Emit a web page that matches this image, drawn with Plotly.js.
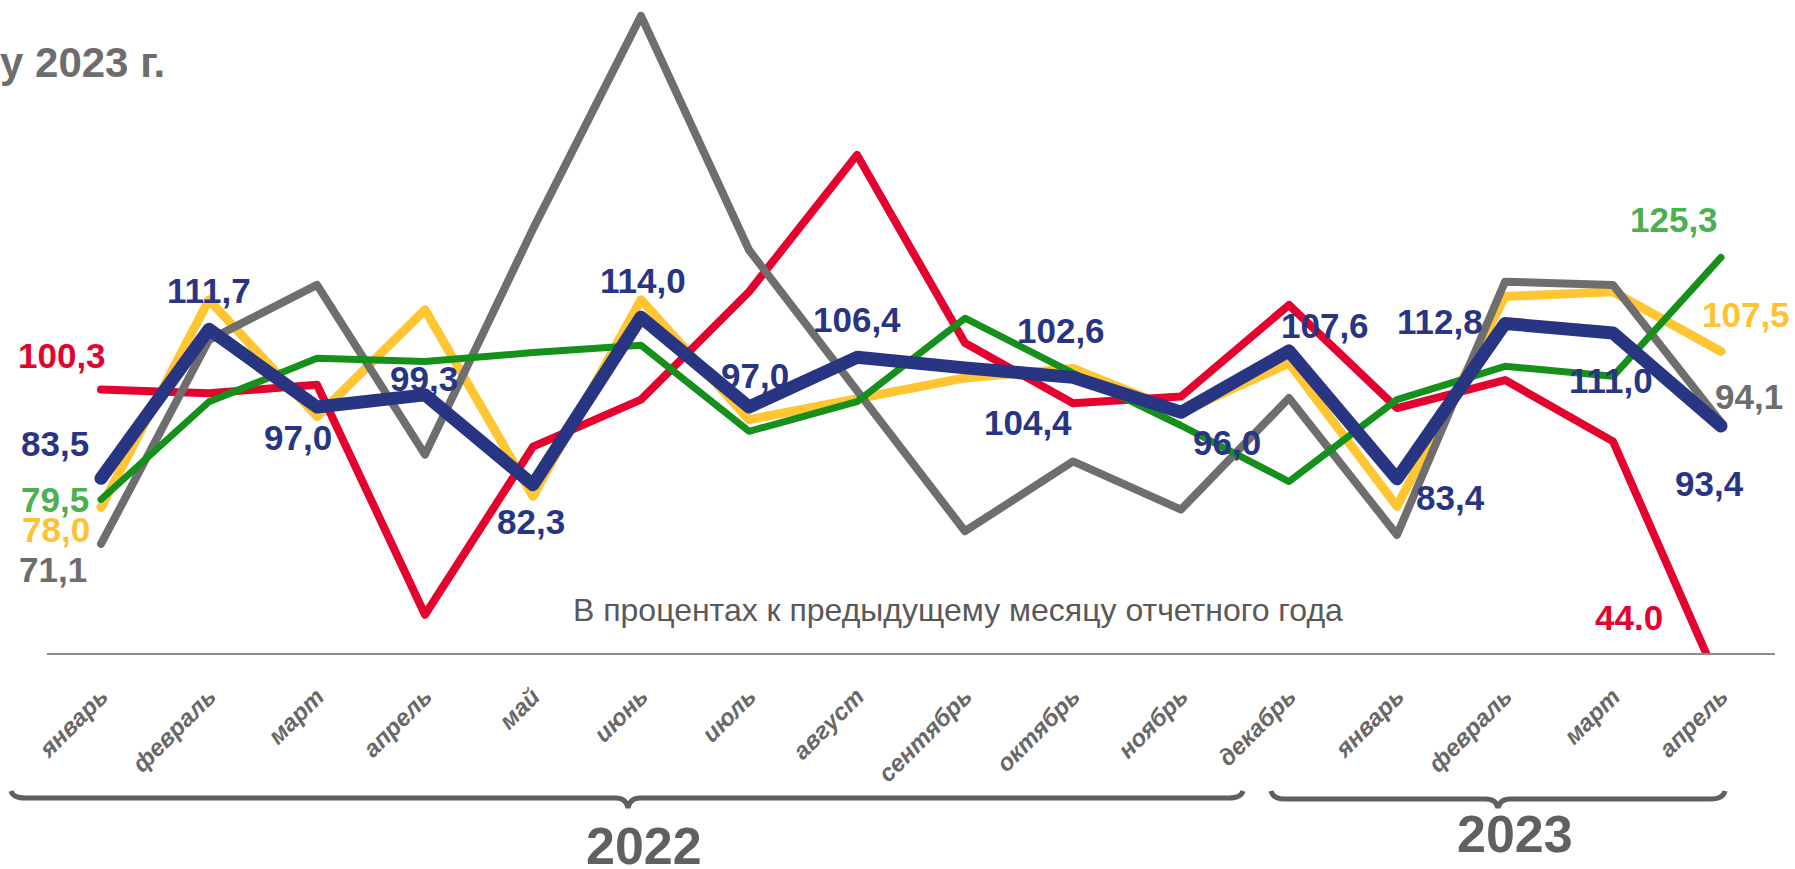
<!DOCTYPE html>
<html>
<head>
<meta charset="utf-8">
<script src="https://cdn.plot.ly/plotly-3.0.1.min.js"></script>
<style>
html,body{margin:0;padding:0;background:#fff;}
#chart{width:1795px;height:869px;}
.scatterlayer path.js-line{stroke-linejoin:round;stroke-linecap:round;}
</style>
</head>
<body>
<div id="chart"></div>
<script>
// ---- data ----
const months = ['январь','февраль','март','апрель','май','июнь','июль','август','сентябрь','октябрь','ноябрь','декабрь','январь','февраль','март','апрель'];
const seriesBlue   = [83.5,111.7,97.0,99.3,82.3,114.0,97.0,106.4,104.4,102.6,96.0,107.6,83.4,112.8,111.0,93.4];
const seriesRed    = [100.3,99.6,101.2,57.7,89.5,98.4,118.8,144.7,109.1,97.7,99.0,116.3,96.8,102.1,90.5,44.0];
const seriesGreen  = [79.5,98.0,106.2,105.6,107.3,108.7,92.4,98.0,113.8,103.4,93.5,82.9,98.4,104.7,102.8,125.3];
const seriesYellow = [78.0,117.3,95.2,115.4,80.1,117.3,94.6,98.5,102.5,104.3,96.0,105.3,78.2,117.9,118.8,107.5];
const seriesGray   = [71.1,109.7,120.1,88.0,130.7,171.0,126.7,100.2,73.5,86.7,77.6,98.7,72.8,120.7,120.1,94.1];
const years = ['2022','2023'];
const subtitle = 'В процентах к предыдущему месяцу отчетного года';
const titleText = 'у 2023 г.';

// ---- layout geometry ----
const W = 1795, H = 869;
const M = {l:47, r:20, t:0, b:216};
const plotW = W - M.l - M.r, plotH = H - M.t - M.b;
const yRange = [50.46, 174.0];
const xIdx = months.map((_, i) => i);
const px2xp = px => (px - M.l) / plotW;
const py2yp = py => (M.t + plotH - py) / plotH;
const v2yp = v => (v - yRange[0]) / (yRange[1] - yRange[0]);

const C = {
  blue:'#283583', red:'#e4032e', green:'#14901b', yellow:'#ffc533', gray:'#6e6e6e',
  greenLbl:'#4caf50', yellowLbl:'#fec233', grayLbl:'#6d6d6d', text:'#686868'
};
const FONT = 'Liberation Sans, Arial, sans-serif';

function line(y, color, width){
  return {x:xIdx, y:y, type:'scatter', mode:'lines', line:{color:color, width:width}, hoverinfo:'skip', showlegend:false};
}
const traces = [
  line(seriesYellow, C.yellow, 9),
  line(seriesRed, C.red, 8),
  line(seriesGray, C.gray, 8),
  line(seriesGreen, C.green, 7),
  line(seriesBlue, C.blue, 13)
];

// label offsets (pixels) relative to the point
const blueOff = [[-46,35],[0,39],[-19,-30],[-1,16],[-2,-37],[2,37],[6,32],[0,38],[63,-55],[-12,47],[46,-30],[36,25],[53,-19],[-65,2],[-2,-47],[-12,-57]];
const fmt = v => v.toFixed(1).replace('.', ',');
const ann = [];
function lbl(i, v, txt, color, off){
  ann.push({xref:'x', yref:'paper', x:i, y:v2yp(v), text:txt, showarrow:false,
    xshift:off[0], yshift:off[1], xanchor:'center', yanchor:'middle',
    font:{family:FONT, size:35, weight:'bold', color:color}});
}
seriesBlue.forEach((v,i)=>lbl(i, v, fmt(v), C.blue, blueOff[i]));
const last = months.length - 1;
lbl(0, seriesRed[0], fmt(seriesRed[0]), C.red, [-39,34]);
lbl(last, seriesRed[last], seriesRed[last].toFixed(1), C.red, [-92,70]);
lbl(0, seriesGreen[0], fmt(seriesGreen[0]), C.greenLbl, [-46,0]);
lbl(last, seriesGreen[last], fmt(seriesGreen[last]), C.greenLbl, [-47,38]);
lbl(0, seriesYellow[0], fmt(seriesYellow[0]), C.yellowLbl, [-45,-22]);
lbl(last, seriesYellow[last], fmt(seriesYellow[last]), C.yellowLbl, [25,37]);
lbl(0, seriesGray[0], fmt(seriesGray[0]), C.grayLbl, [-48,-26]);
lbl(last, seriesGray[last], fmt(seriesGray[last]), C.grayLbl, [28,26]);

// texts
ann.push({xref:'paper', yref:'paper', x:px2xp(-2), y:py2yp(62), xanchor:'left', yanchor:'middle',
  text:titleText, showarrow:false, font:{family:FONT, size:42, weight:'bold', color:'#6d6d6d'}});
ann.push({xref:'paper', yref:'paper', x:px2xp(571), y:py2yp(610), xanchor:'left', yanchor:'middle',
  text:subtitle, showarrow:false, font:{family:FONT, size:32, color:'#595959'}});
ann.push({xref:'paper', yref:'paper', x:px2xp(644), y:py2yp(846), xanchor:'center', yanchor:'middle',
  text:years[0], showarrow:false, font:{family:FONT, size:52, weight:'bold', color:'#606060'}});
ann.push({xref:'paper', yref:'paper', x:px2xp(1515), y:py2yp(834), xanchor:'center', yanchor:'middle',
  text:years[1], showarrow:false, font:{family:FONT, size:52, weight:'bold', color:'#606060'}});

// braces
function bracePath(x0, x1, xm, yEnd, yBar, yTip){
  const P = (x,y) => px2xp(x).toFixed(5) + ',' + py2yp(y).toFixed(5);
  return 'M' + P(x0, yEnd) + ' Q' + P(x0+2, yBar) + ' ' + P(x0+14, yBar) +
         ' L' + P(xm-12, yBar) + ' Q' + P(xm-2, yBar) + ' ' + P(xm, yTip) +
         ' Q' + P(xm+2, yBar) + ' ' + P(xm+12, yBar) +
         ' L' + P(x1-14, yBar) + ' Q' + P(x1-2, yBar) + ' ' + P(x1, yEnd);
}
const shapes = [
  {type:'path', xref:'paper', yref:'paper', path:bracePath(11, 1243, 628, 791, 798, 808), line:{color:'#606060', width:5}},
  {type:'path', xref:'paper', yref:'paper', path:bracePath(1271, 1725, 1498, 791, 799, 808), line:{color:'#606060', width:5}}
];

const layout = {
  width:W, height:H, margin:M, paper_bgcolor:'#fff', plot_bgcolor:'#fff',
  showlegend:false,
  xaxis:{range:[-0.5, 15.5], tickvals:xIdx, ticktext:months, tickangle:-45,
    showline:true, linecolor:'#8c8c8c', linewidth:2, showgrid:false, zeroline:false,
    ticks:'', ticklabelstandoff:18,
    tickfont:{family:FONT, size:24, weight:'bold', style:'italic', color:C.text}, fixedrange:true},
  yaxis:{range:yRange, visible:false, showgrid:false, zeroline:false, fixedrange:true},
  annotations:ann, shapes:shapes
};
Plotly.newPlot('chart', traces, layout, {staticPlot:true, displayModeBar:false});
</script>
</body>
</html>
